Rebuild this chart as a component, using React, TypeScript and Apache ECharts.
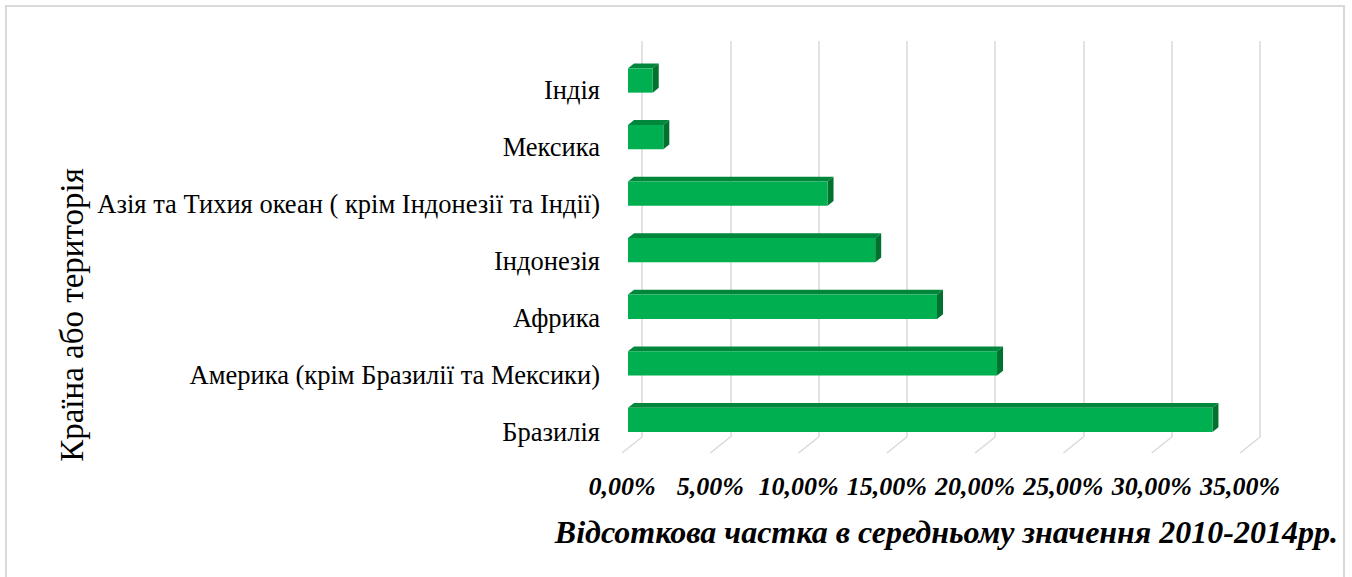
import React, { useEffect, useRef } from 'react';
import * as echarts from 'echarts';

const categories = [
  'Бразилія',
  'Америка (крім Бразилії та Мексики)',
  'Африка',
  'Індонезія',
  'Азія та Тихия океан ( крім Індонезії та Індії)',
  'Мексика',
  'Індія',
];
const shares = [33.1, 20.9, 17.5, 14.0, 11.3, 2.0, 1.4];
const tickValues = [0, 5, 10, 15, 20, 25, 30, 35];

const yTitle = 'Країна або територія';
const xTitle = 'Відсоткова частка в середньому значення 2010-2014рр.';

const FONT = 'Liberation Serif';

export default function App() {
  const ref = useRef<HTMLDivElement>(null);
  useEffect(() => {
    const chart = echarts.init(ref.current!, null, { renderer: 'svg' });
    const floorDx = -20;
    const floorDy = 16;
    const frontDx = -14;
    const frontDy = 11.2;
    const depthDx = 6;
    const depthDy = -4.8;
    const fmt = (v: number) => v.toFixed(2).replace('.', ',') + '%';
    chart.setOption({
      animation: false,
      textStyle: { fontFamily: FONT },
      grid: [
        { left: 642, top: 41, width: 618, height: 396 },
        { left: 622, top: 61, width: 618, height: 399 },
      ],
      xAxis: [
        {
          gridIndex: 0, type: 'value', min: 0, max: 35, interval: 5,
          axisLabel: { show: false }, axisLine: { show: false }, axisTick: { show: false },
          splitLine: { show: true, lineStyle: { color: '#d9d9d9', width: 1.5 } },
        },
        {
          gridIndex: 1, type: 'value', min: 0, max: 35, interval: 5,
          axisLabel: {
            show: true, formatter: fmt, fontFamily: FONT, fontSize: 26,
            fontWeight: 'bold', fontStyle: 'italic', color: '#000', margin: 13,
          },
          axisLine: { show: false }, axisTick: { show: false }, splitLine: { show: false },
        },
      ],
      yAxis: [
        {
          gridIndex: 0, type: 'category', data: categories,
          axisLabel: { show: false }, axisLine: { show: false }, axisTick: { show: false },
          splitLine: { show: false },
        },
        {
          gridIndex: 1, type: 'category', data: categories,
          axisLabel: { show: true, fontFamily: FONT, fontSize: 26.5, color: '#000', margin: 22 },
          axisLine: { show: false }, axisTick: { show: false }, splitLine: { show: false },
        },
      ],
      series: [
        {
          type: 'custom', xAxisIndex: 0, yAxisIndex: 0, silent: true, z: 1,
          data: tickValues.map((v) => [v, 0]),
          encode: { x: 0, y: 1 },
          renderItem: (params: any, api: any) => {
            const cs = params.coordSys;
            const p = api.coord([api.value(0), 0]);
            const yb = cs.y + cs.height;
            return {
              type: 'line',
              shape: { x1: p[0], y1: yb, x2: p[0] + floorDx, y2: yb + floorDy },
              style: { stroke: '#d9d9d9', lineWidth: 1.5 },
            };
          },
        },
        {
          type: 'custom', xAxisIndex: 0, yAxisIndex: 0, z: 3,
          data: shares.map((v, i) => [v, i]),
          encode: { x: 0, y: 1 },
          renderItem: (params: any, api: any) => {
            const val = api.value(0);
            const idx = api.value(1);
            const p0 = api.coord([0, idx]);
            const p1 = api.coord([val, idx]);
            const band = api.size([0, 1])[1];
            const h = band * 0.43;
            const xl = p0[0] + frontDx;
            const xr = p1[0] + frontDx;
            const cy = p0[1] + frontDy;
            const yt = cy - h / 2;
            const yb = cy + h / 2;
            return {
              type: 'group',
              children: [
                {
                  type: 'polygon',
                  shape: { points: [[xl, yt], [xr, yt], [xr + depthDx, yt + depthDy], [xl + depthDx, yt + depthDy]] },
                  style: { fill: '#00873b' },
                },
                {
                  type: 'polygon',
                  shape: { points: [[xr, yt], [xr + depthDx, yt + depthDy], [xr + depthDx, yb + depthDy], [xr, yb]] },
                  style: { fill: '#00712f' },
                },
                {
                  type: 'rect',
                  shape: { x: xl, y: yt, width: xr - xl, height: h },
                  style: { fill: '#00b050' },
                },
              ],
            };
          },
        },
      ],
      graphic: [
        {
          type: 'rect', silent: true,
          shape: { x: 6, y: 6, width: 1338, height: 600 },
          style: { fill: 'none', stroke: '#d9d9d9', lineWidth: 2 },
        },
        {
          type: 'text', x: 72, y: 315, rotation: Math.PI / 2,
          style: {
            text: yTitle, fontFamily: FONT, fontSize: 33, fill: '#000',
            textAlign: 'center', textVerticalAlign: 'middle',
          },
        },
        {
          type: 'text', x: 1338, y: 532,
          style: {
            text: xTitle, fontFamily: FONT, fontSize: 32, fontWeight: 'bold', fontStyle: 'italic',
            fill: '#000', textAlign: 'right', textVerticalAlign: 'middle',
          },
        },
      ],
    });
    return () => chart.dispose();
  }, []);
  return <div ref={ref} style={{ position: 'absolute', left: 0, top: 0, width: 1352, height: 577 }} />;
}
